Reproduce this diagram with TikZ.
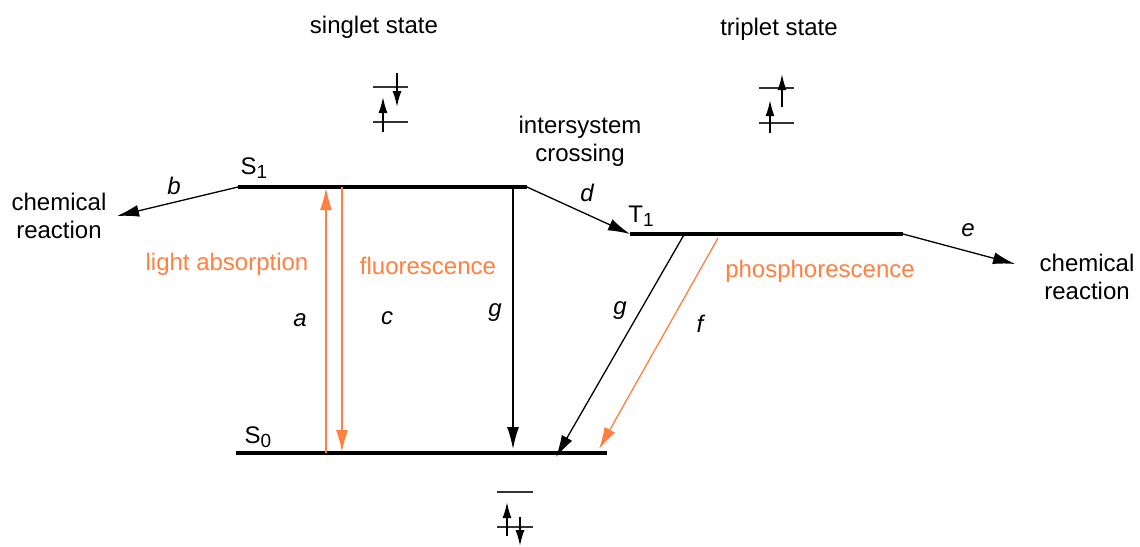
\documentclass[tikz,border=0pt]{standalone}
\usepackage{fontspec}
\setmainfont{Liberation Sans}
\usetikzlibrary{arrows.meta}
\definecolor{emission}{RGB}{255,128,64}
\newcommand{\lvlsub}[1]{\raisebox{-0.3ex}{\fontsize{9.5}{11}\selectfont #1}}
\tikzset{
  jablonski/.style={
    x=0.5pt, y=-0.5pt,
    font=\fontsize{12}{14}\selectfont,
    every node/.style={inner sep=0pt, align=center},
  },
  level line/.style={line width=2pt},
  transition/.style={line width=0.65pt, -{Latex[length=11pt,width=6pt]}},
  radiative/.style={transition, draw=emission},
  spin/.style={line width=0.9pt, -{Latex[length=8pt,width=4.5pt]}},
  orbital/.style={line width=0.8pt, draw=black!80},
  rate/.style={font=\fontsize{12}{14}\selectfont\itshape},
}

\begin{document}
\begin{tikzpicture}[
  jablonski,
]
\useasboundingbox (0,0) rectangle (1140,546);

% energy levels
\coordinate (S1l) at (238,187);
\coordinate (S1r) at (527,187);
\coordinate (T1l) at (630,234);
\coordinate (T1r) at (903,234);
\coordinate (S0l) at (236,453);
\coordinate (S0r) at (607,453);
\draw [level line] (S1l) -- (S1r);
\draw [level line] (T1l) -- (T1r);
\draw [level line] (S0l) -- (S0r);

\node (S1) at (254,168) {S\lvlsub{1}};
\node (T1) at (641,216) {T\lvlsub{1}};
\node (S0) at (258,437) {S\lvlsub{0}};

\node (singlet) at (374,27) {singlet state};
\node (triplet) at (779,29) {triplet state};
\node (isc) at (580,141) {intersystem\\crossing};
\node (chemL) at (59,216) {chemical\\reaction};
\node (chemR) at (1087,277) {chemical\\reaction};

% side reactions
\coordinate (bEnd) at (117,216);
\coordinate (eEnd) at (1015,264);
\draw [transition] (S1l) -- (bEnd);
\draw [transition] (S1r) -- (T1l);
\draw [transition] (T1r) -- (eEnd);

% transitions between levels
\coordinate (aBot) at (326,453);
\coordinate (aTop) at (326,188);
\coordinate (cTop) at (342,187);
\coordinate (cBot) at (342,452);
\coordinate (gTop) at (513,187);
\coordinate (gBot) at (513,449);
\coordinate (g2Top) at (685,233);
\coordinate (g2Bot) at (556,457);
\coordinate (fTop) at (718,238);
\coordinate (fBot) at (599,449);
\draw [radiative] (aBot) -- (aTop);
\draw [radiative] (cTop) -- (cBot);
\draw [transition] (gTop) -- (gBot);
\draw [transition] (g2Top) -- (g2Bot);
\draw [radiative] (fTop) -- (fBot);

\node [text=emission] (absorb) at (227,264) {light absorption};
\node [text=emission] (fluor) at (428,266) {fluorescence};
\node [text=emission] (phos) at (820,271) {phosphorescence};

\node [rate] (a) at (300,320) {a};
\node [rate] (b) at (174,186) {b};
\node [rate] (c) at (387,318) {c};
\node [rate] (d) at (587,193) {d};
\node [rate] (e) at (968,230) {e};
\node [rate] (f) at (700,324) {f};
\node [rate] (g) at (495,313) {g};
\node [rate] (g2) at (620,311) {g};

% spin pictures
\draw [orbital] (373,87) -- (408,87);
\draw [orbital] (373,122) -- (408,122);
\draw [spin] (383,132) -- (383,97);
\draw [spin] (397,73) -- (397,107);

\draw [orbital] (759,88) -- (794,88);
\draw [orbital] (759,123) -- (794,123);
\draw [spin] (770,133) -- (770,100);
\draw [spin] (782,107) -- (782,74);

\draw [orbital] (497,492) -- (533,492);
\draw [orbital] (497,527) -- (533,527);
\draw [spin] (507,536) -- (507,502);
\draw [spin] (520,517) -- (520,546);
\end{tikzpicture}
\end{document}
